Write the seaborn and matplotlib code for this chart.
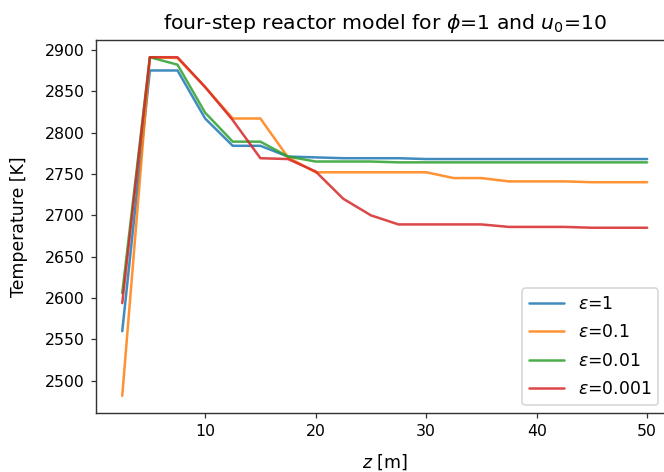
import numpy as np
import pandas as pd
import matplotlib
matplotlib.use("Agg")
import matplotlib.pyplot as plt
import seaborn as sns

# axial positions along the reactor [m]
z = [2.5, 5.0, 7.5, 10.0, 12.5, 15.0, 17.5, 20.0, 22.5, 25.0,
     27.5, 30.0, 32.5, 35.0, 37.5, 40.0, 42.5, 45.0, 47.5, 50.0]

# temperature profiles [K] for each value of epsilon
T_eps_1 = [2560, 2875, 2875, 2817, 2784, 2784, 2771, 2770, 2769, 2769,
           2769, 2768, 2768, 2768, 2768, 2768, 2768, 2768, 2768, 2768]
T_eps_01 = [2482, 2891, 2890, 2855, 2817, 2817, 2770, 2752, 2752, 2752,
            2752, 2752, 2745, 2745, 2741, 2741, 2741, 2740, 2740, 2740]
T_eps_001 = [2606, 2891, 2882, 2824, 2789, 2789, 2771, 2765, 2765, 2765,
             2764, 2764, 2764, 2764, 2764, 2764, 2764, 2764, 2764, 2764]
T_eps_0001 = [2594, 2891, 2891, 2855, 2815, 2769, 2768, 2753, 2720, 2700,
              2689, 2689, 2689, 2689, 2686, 2686, 2686, 2685, 2685, 2685]

labels = [r"$\varepsilon$=1", r"$\varepsilon$=0.1",
          r"$\varepsilon$=0.01", r"$\varepsilon$=0.001"]

frames = []
for lab, T in zip(labels, [T_eps_1, T_eps_01, T_eps_001, T_eps_0001]):
    frames.append(pd.DataFrame({"z": z, "T": T, "case": lab}))
df = pd.concat(frames, ignore_index=True)

sns.set_style("white")
plt.rcParams["font.family"] = ["DejaVu Sans"]
plt.rcParams["mathtext.fontset"] = "dejavusans"
plt.rcParams["text.color"] = "black"
plt.rcParams["axes.labelcolor"] = "black"
plt.rcParams["xtick.color"] = "black"
plt.rcParams["ytick.color"] = "black"

dpi = 113
fig = plt.figure(figsize=(664 / dpi, 472 / dpi), dpi=dpi)
# the plotting area runs past the right edge of the canvas
ax = fig.add_axes([96 / 664, (472 - 412.7) / 472, 577.4 / 664, 372.4 / 472])

sns.lineplot(data=df, x="z", y="T", hue="case", palette="tab10",
             linewidth=1.6, alpha=0.85, ax=ax, legend=True)

for s in ax.spines.values():
    s.set_color("#333333")
    s.set_linewidth(0.9)
ax.spines["right"].set_visible(False)
ax.tick_params(axis="both", which="major", direction="out", length=3.5,
               width=0.8, color="#333333", left=True, bottom=True, labelsize=10)
ax.set_xticks([10, 20, 30, 40, 50])
ax.set_yticks(np.arange(2500, 2901, 50))

ax.set_title(r"four-step reactor model for $\phi$=1 and $u_0$=10", fontsize=13, pad=7)
ax.set_xlabel(r"$z$ [m]", fontsize=11, labelpad=9)
ax.set_ylabel("Temperature [K]", fontsize=11, labelpad=11)

leg = ax.legend(loc="lower right", bbox_to_anchor=(658 / 664, (472 - 405) / 472),
                bbox_transform=fig.transFigure, borderaxespad=0, fontsize=11,
                labelspacing=0.6, frameon=True, fancybox=True, framealpha=0.8,
                edgecolor="#cccccc")

fig.savefig("out.png", dpi=dpi)
